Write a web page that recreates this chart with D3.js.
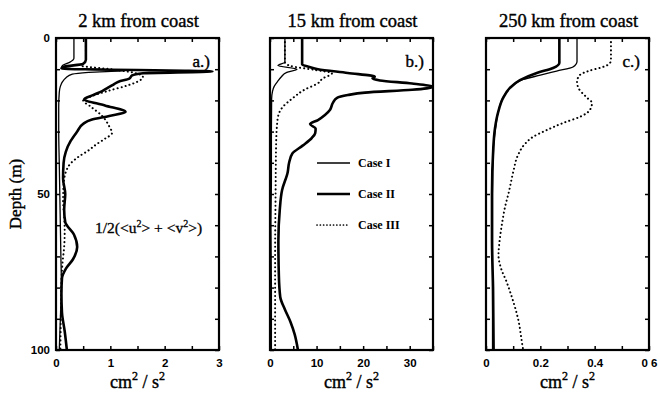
<!DOCTYPE html>
<html>
<head>
<meta charset="utf-8">
<script src="https://cdn.jsdelivr.net/npm/d3@7"></script>
<style>
  html, body { margin: 0; padding: 0; background: #fff; }
  svg { display: block; }
</style>
</head>
<body>
<svg id="chart" width="660" height="395"></svg>
<script>
// ---- data: depth (m), 1/2(<u^2>+<v^2>) (cm^2/s^2) ----
const panelTitles = ["2 km from coast", "15 km from coast", "250 km from coast"];
const panelTags = ["a.)", "b.)", "c.)"];
const xMax = [3, 35, 0.6];
const xTickStep = [0.5, 5, 0.1];
const xLabelValues = [[0, 1, 2, 3], [0, 10, 20, 30], [0, 0.2, 0.4, 0.6]];
const xLabelText = [["0", "1", "2", "3"], ["0", "10", "20", "30"], ["0", "0.2", "0.4", "0 6"]];
const depthLabels = [0, 50, 100];
const caseNames = ["Case I", "Case II", "Case III"];

// 2 km from coast
const caseI_2km = [[0,0.33],[6.5,0.33],[7.8,0.25],[8.8,0.12],[9.6,0.1],[10.4,1.3],[11.0,0.6],[11.6,0.3],[12.8,0.18],[14,0.12],[15.5,0.08],[17.5,0.06],[22,0.05],[30,0.05],[40,0.06],[50,0.07],[60,0.08],[70,0.09],[80,0.1],[90,0.08],[100,0.06]];
const caseII_2km = [[0,0.55],[7,0.55],[8.3,0.5],[9.2,0.15],[9.8,0.1],[10.7,2.88],[11.3,1.6],[12,1.4],[13,1.35],[14,1.15],[15,1.05],[16,0.95],[17,0.85],[18.3,0.68],[19.6,0.52],[21.6,0.9],[23.7,1.28],[25,0.98],[26.2,0.65],[27.5,0.5],[30,0.39],[33,0.27],[36.5,0.18],[40,0.14],[45,0.13],[50,0.17],[55,0.15],[59,0.17],[63,0.33],[67,0.39],[71,0.31],[74,0.18],[77,0.11],[82,0.1],[88,0.11],[94,0.16],[100,0.2]];
const caseIII_2km = [[0,0.55],[7.5,0.55],[8.8,0.45],[10,1.0],[11.2,1.45],[12.5,1.6],[14,1.5],[15.3,1.3],[17,0.95],[18.7,0.65],[20,0.5],[22,0.64],[25,0.85],[28,0.97],[30.5,1.03],[32.3,0.9],[34,0.75],[36,0.6],[38,0.42],[40,0.28],[43,0.18],[47,0.14],[52,0.13],[57,0.15],[62,0.16],[67,0.15],[72,0.12],[78,0.1],[88,0.09],[100,0.08]];

// 15 km from coast
const caseI_15km = [[0,3.2],[7.8,3.2],[8.8,1.7],[10,5.8],[11,3.6],[12.5,2.4],[14,1.6],[15.5,0.9],[17,0.55],[19.5,0.35],[30,0.3],[45,0.3],[60,0.2],[80,0.3],[100,0.3]];
const caseII_15km = [[0,6.9],[8.5,6.9],[9.3,8.5],[10,10.3],[11.2,16.7],[12.4,22.5],[12.9,22.0],[13.6,23.6],[14.6,30.5],[15.7,35],[16.6,30.5],[17.5,20.4],[18.3,16.7],[19.2,14.4],[20.8,13.5],[23,12.9],[24.7,11.8],[26.3,10.3],[27.6,8.6],[29,9.8],[30.5,9.7],[32,9.0],[34.5,7.0],[37,4.8],[40,4.1],[43,3.8],[48.7,2.6],[55,2.1],[65,1.8],[76,1.9],[83,2.2],[87,3.2],[91,4.4],[95,5.3],[100,6.0]];
const caseIII_15km = [[0,3.2],[7.8,3.2],[9,4.5],[10.2,9.5],[11.3,13.3],[13,11.3],[14.5,10.3],[16.5,7.5],[19.5,4.7],[22,2.8],[24.7,1.8],[28,1.5],[35,1.3],[50,1.2],[70,1.1],[85,1.1],[100,1.1]];

// 250 km from coast
const caseI_250km = [[0,0.335],[7.5,0.335],[9.3,0.32],[10.6,0.26],[11.9,0.2],[13.3,0.137],[15,0.1],[17,0.078],[19.5,0.06],[23.7,0.045],[29,0.035],[35,0.028],[50,0.024],[65,0.024],[80,0.024],[100,0.024]];
const caseII_250km = [[0,0.27],[8,0.27],[9.6,0.247],[11.2,0.187],[13.5,0.125],[16,0.088],[19.2,0.063],[23.7,0.045],[29,0.033],[35,0.027],[50,0.022],[65,0.022],[80,0.026],[100,0.028]];
const caseIII_250km = [[0,0.46],[7,0.46],[8.2,0.455],[9.3,0.43],[10.5,0.38],[11.9,0.345],[14,0.335],[16,0.34],[19,0.37],[20.8,0.39],[23,0.383],[25.3,0.345],[27.2,0.285],[29.5,0.224],[31.7,0.173],[34.3,0.14],[37.5,0.118],[43,0.1],[49,0.085],[55,0.068],[60,0.058],[65,0.05],[69.6,0.046],[74,0.056],[78,0.075],[83,0.095],[90,0.118],[99,0.135],[100,0.137]];

const profiles = [
  [caseI_2km, caseII_2km, caseIII_2km],
  [caseI_15km, caseII_15km, caseIII_15km],
  [caseI_250km, caseII_250km, caseIII_250km]
];

// ---- layout ----
const panelLeft = [56, 270, 486];
const panelW = 163;
const plotTop = 38, plotBottom = 350;
const serif = "'Liberation Serif', 'Times New Roman', serif";
const sans = "'Liberation Sans', Arial, sans-serif";

const lineStyles = [
  { width: 1.3, dash: null },
  { width: 2.6, dash: null },
  { width: 2.0, dash: "0.1,4" }
];

const svg = d3.select("#chart");
const y = d3.scaleLinear().domain([0, 100]).range([plotTop, plotBottom]);

// serif text is drawn with a hairline outline to give it a printed weight
function heavy(sel, w) {
  return sel.attr("stroke", "#000").attr("stroke-width", w).attr("paint-order", "stroke");
}

panelTitles.forEach((title, i) => {
  const x = d3.scaleLinear().domain([0, xMax[i]]).range([panelLeft[i], panelLeft[i] + panelW]);
  const g = svg.append("g");

  const clipId = "clip" + i;
  svg.append("clipPath").attr("id", clipId)
    .append("rect")
    .attr("x", panelLeft[i]).attr("y", plotTop)
    .attr("width", panelW).attr("height", plotBottom - plotTop);

  // profiles
  const line = d3.line()
    .x(d => x(d[1]))
    .y(d => y(d[0]))
    .curve(d3.curveMonotoneY);

  profiles[i].forEach((data, k) => {
    const p = g.append("path")
      .attr("clip-path", `url(#${clipId})`)
      .attr("d", line(data))
      .attr("fill", "none")
      .attr("stroke", "#000")
      .attr("stroke-width", lineStyles[k].width)
      .attr("stroke-linejoin", "round");
    if (lineStyles[k].dash) {
      p.attr("stroke-dasharray", lineStyles[k].dash).attr("stroke-linecap", "round");
    }
  });

  // inward ticks on all four sides
  const xMinor = d3.range(0, xMax[i] + 1e-9, xTickStep[i]);
  const yMinor = d3.range(0, 100 + 1e-9, 10);
  const tickLen = 4;

  const axes = [
    g.append("g").attr("transform", `translate(0,${plotBottom})`).call(d3.axisBottom(x).tickValues(xMinor).tickSize(-tickLen).tickFormat("")),
    g.append("g").attr("transform", `translate(0,${plotTop})`).call(d3.axisTop(x).tickValues(xMinor).tickSize(-tickLen).tickFormat("")),
    g.append("g").attr("transform", `translate(${panelLeft[i]},0)`).call(d3.axisLeft(y).tickValues(yMinor).tickSize(-tickLen).tickFormat("")),
    g.append("g").attr("transform", `translate(${panelLeft[i] + panelW},0)`).call(d3.axisRight(y).tickValues(yMinor).tickSize(-tickLen).tickFormat(""))
  ];
  axes.forEach(a => {
    a.select(".domain").remove();
    a.selectAll(".tick line").attr("stroke", "#000").attr("stroke-width", 1.5);
  });

  // frame
  g.append("rect")
    .attr("x", panelLeft[i]).attr("y", plotTop)
    .attr("width", panelW).attr("height", plotBottom - plotTop)
    .attr("fill", "none").attr("stroke", "#000").attr("stroke-width", 2.2);

  // x tick labels
  const xl = g.append("g").attr("transform", `translate(0,${plotBottom + 6})`)
    .call(d3.axisBottom(x).tickValues(xLabelValues[i]).tickSize(0)
      .tickFormat((d, j) => xLabelText[i][j]));
  xl.select(".domain").remove();
  xl.selectAll("text")
    .attr("font-family", sans).attr("font-weight", "bold").attr("font-size", 11.5)
    .attr("fill", "#000");

  // depth labels on the first panel only
  if (i === 0) {
    const yl = g.append("g").attr("transform", `translate(${panelLeft[i] - 3},0)`)
      .call(d3.axisLeft(y).tickValues(depthLabels).tickSize(0));
    yl.select(".domain").remove();
    yl.selectAll("text")
      .attr("font-family", sans).attr("font-weight", "bold").attr("font-size", 11.5)
      .attr("fill", "#000");
  }

  // title
  heavy(g.append("text")
    .attr("x", panelLeft[i] + panelW / 2 + 1).attr("y", 27)
    .attr("text-anchor", "middle")
    .attr("font-family", serif).attr("font-size", 18.5)
    .text(title), 0.4);

  // panel tag
  heavy(g.append("text")
    .attr("x", panelLeft[i] + panelW - 9).attr("y", 67)
    .attr("text-anchor", "end")
    .attr("font-family", serif).attr("font-size", 17)
    .text(panelTags[i]), 0.4);

  // x axis title: cm^2 / s^2
  const xt = heavy(g.append("text")
    .attr("x", panelLeft[i] + panelW / 2).attr("y", 388)
    .attr("text-anchor", "middle")
    .attr("font-family", serif).attr("font-size", 18), 0.4);
  xt.append("tspan").text("cm");
  xt.append("tspan").attr("dy", -8).attr("font-size", 12).text("2");
  xt.append("tspan").attr("dy", 8).text(" / s");
  xt.append("tspan").attr("dy", -8).attr("font-size", 12).text("2");
});

// depth axis title
heavy(svg.append("text")
  .attr("transform", "translate(21,194) rotate(-90)")
  .attr("text-anchor", "middle")
  .attr("font-family", serif).attr("font-size", 17)
  .text("Depth (m)"), 0.4);

// quantity annotation in panel a
const ann = heavy(svg.append("text")
  .attr("x", 95).attr("y", 233)
  .attr("font-family", serif).attr("font-size", 15.5), 0.3);
ann.append("tspan").text("1/2(<u");
ann.append("tspan").attr("dy", -6).attr("font-size", 10).text("2");
ann.append("tspan").attr("dy", 6).text("> + <v");
ann.append("tspan").attr("dy", -6).attr("font-size", 10).text("2");
ann.append("tspan").attr("dy", 6).text(">)");

// legend in panel b
const legendY = [163, 194, 225];
const legend = svg.append("g");
caseNames.forEach((name, k) => {
  const l = legend.append("line")
    .attr("x1", 317).attr("x2", 350)
    .attr("y1", legendY[k]).attr("y2", legendY[k])
    .attr("stroke", "#000")
    .attr("stroke-width", lineStyles[k].width);
  if (lineStyles[k].dash) {
    l.attr("stroke-dasharray", "0.1,3.2").attr("stroke-linecap", "round").attr("stroke-width", 1.7);
  }
  legend.append("text")
    .attr("x", 358).attr("y", legendY[k] + 4)
    .attr("font-family", serif).attr("font-weight", "bold").attr("font-size", 12)
    .text(name);
});
</script>
</body>
</html>
